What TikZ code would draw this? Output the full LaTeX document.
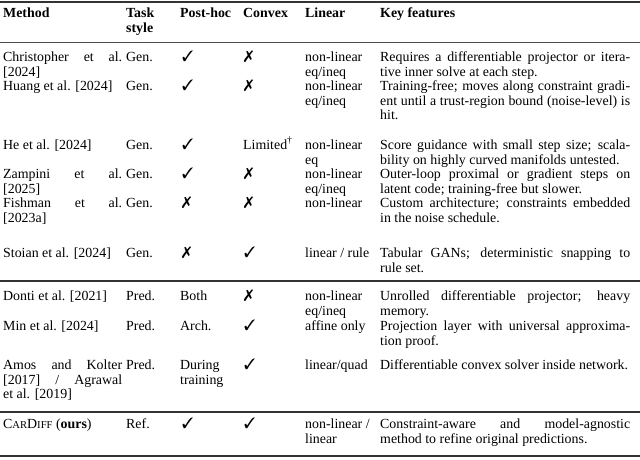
\documentclass[tikz,border=0pt]{standalone}
\usepackage{fontspec}
\setmainfont{Liberation Serif}
\usepackage{pifont}
\newcounter{cc}
\newcommand\fs{\fontsize{13.9}{14.6}\selectfont}
\newcommand\cell[3]{\stepcounter{cc}\node[tcell,name=c\arabic{cc}] at (#1,-#2) {#3};}
\newcommand\J[2]{\makebox[#1pt][s]{#2}}
\newcommand\cm{{\fontsize{15}{15}\selectfont\ding{51}}}
\newcommand\xm{{\fontsize{16}{16}\selectfont\ding{55}}}
\tikzset{tcell/.style={anchor=base west,inner sep=0,font=\fs},
 rulethick/.style={line width=1.4pt,draw=black!80},
 rulethin/.style={line width=0.9pt,draw=black!70}}
\begin{document}
\begin{tikzpicture}[x=1pt,y=1pt]
\useasboundingbox (0,0) rectangle (640,-459);
% rules
\coordinate (r1a) at (0,-2); \coordinate (r1b) at (640,-2);
\coordinate (r2a) at (0,-42); \coordinate (r2b) at (640,-42);
\coordinate (r3a) at (0,-281); \coordinate (r3b) at (640,-281);
\coordinate (r4a) at (0,-412); \coordinate (r4b) at (640,-412);
\coordinate (r5a) at (0,-456); \coordinate (r5b) at (640,-456);
\draw[rulethick] (r1a) -- (r1b);
\draw[rulethin] (r2a) -- (r2b);
\draw[rulethick] (r3a) -- (r3b);
\draw[rulethick] (r4a) -- (r4b);
\draw[rulethick] (r5a) -- (r5b);
% header
\cell{3}{17}{\bfseries Method}
\cell{126}{17}{\bfseries Task}
\cell{126}{32}{\bfseries style}
\cell{180}{17}{\bfseries Post-hoc}
\cell{243}{17}{\bfseries Convex}
\cell{305}{17}{\bfseries Linear}
\cell{380}{17}{\bfseries Key features}
% Christopher
\cell{3}{61}{\J{119}{Christopher et al.}}
\cell{3}{76}{[2024]}
\cell{126}{61}{Gen.}\cell{182}{61}{\cm}\cell{244}{61}{\xm}
\cell{305}{61}{non-linear}\cell{305}{76}{eq/ineq}
\cell{380}{61}{\J{250}{Requires a differentiable projector or itera-}}
\cell{380}{76}{tive inner solve at each step.}
% Huang
\cell{3}{90}{Huang et al. [2024]}
\cell{126}{90}{Gen.}\cell{182}{90}{\cm}\cell{244}{90}{\xm}
\cell{305}{90}{non-linear}\cell{305}{105}{eq/ineq}
\cell{380}{90}{\J{250}{Training-free; moves along constraint gradi-}}
\cell{380}{105}{\J{250}{ent until a trust-region bound (noise-level) is}}
\cell{380}{119}{hit.}
% He
\cell{3}{149}{He et al. [2024]}
\cell{126}{149}{Gen.}\cell{182}{149}{\cm}\cell{243}{149}{Limited\textsuperscript{\dag}}
\cell{305}{149}{non-linear}\cell{305}{164}{eq}
\cell{380}{149}{\J{250}{Score guidance with small step size; scala-}}
\cell{380}{164}{bility on highly curved manifolds untested.}
% Zampini
\cell{3}{178}{\J{119}{Zampini et al.}}
\cell{3}{193}{[2025]}
\cell{126}{178}{Gen.}\cell{182}{178}{\cm}\cell{244}{178}{\xm}
\cell{305}{178}{non-linear}\cell{305}{193}{eq/ineq}
\cell{380}{178}{\J{250}{Outer-loop proximal or gradient steps on}}
\cell{380}{193}{latent code; training-free but slower.}
% Fishman
\cell{3}{207}{\J{119}{Fishman et al.}}
\cell{3}{222}{[2023a]}
\cell{126}{207}{Gen.}\cell{182}{207}{\xm}\cell{244}{207}{\xm}
\cell{305}{207}{non-linear}
\cell{380}{207}{\J{250}{Custom architecture; constraints embedded}}
\cell{380}{222}{in the noise schedule.}
% Stoian
\cell{3}{257}{Stoian et al. [2024]}
\cell{126}{257}{Gen.}\cell{182}{257}{\xm}\cell{244}{257}{\cm}
\cell{305}{257}{linear / rule}
\cell{380}{257}{\J{250}{Tabular GANs; deterministic snapping to}}
\cell{380}{272}{rule set.}
% Donti
\cell{3}{300}{Donti et al. [2021]}
\cell{126}{300}{Pred.}\cell{180}{300}{Both}\cell{244}{300}{\xm}
\cell{305}{300}{non-linear}\cell{305}{315}{eq/ineq}
\cell{380}{300}{\J{250}{Unrolled differentiable projector; heavy}}
\cell{380}{315}{memory.}
% Min
\cell{3}{330}{Min et al. [2024]}
\cell{126}{330}{Pred.}\cell{180}{330}{Arch.}\cell{244}{330}{\cm}
\cell{305}{330}{affine only}
\cell{380}{330}{\J{250}{Projection layer with universal approxima-}}
\cell{380}{345}{tion proof.}
% Amos
\cell{3}{369}{\J{119}{Amos and Kolter}}
\cell{3}{384}{\J{119}{[2017] / Agrawal}}
\cell{3}{398}{et al. [2019]}
\cell{126}{369}{Pred.}\cell{180}{369}{During}\cell{180}{384}{training}\cell{244}{369}{\cm}
\cell{305}{369}{linear/quad}
\cell{380}{369}{Differentiable convex solver inside network.}
% CarDiff
\cell{3}{428}{C{\fontsize{10.6}{11}\selectfont AR}D{\fontsize{10.6}{11}\selectfont IFF} (\textbf{ours})}
\cell{126}{428}{Ref.}\cell{182}{428}{\cm}\cell{244}{428}{\cm}
\cell{305}{428}{non-linear /}\cell{305}{443}{linear}
\cell{380}{428}{\J{250}{Constraint-aware and model-agnostic}}
\cell{380}{443}{method to refine original predictions.}
\end{tikzpicture}
\end{document}
